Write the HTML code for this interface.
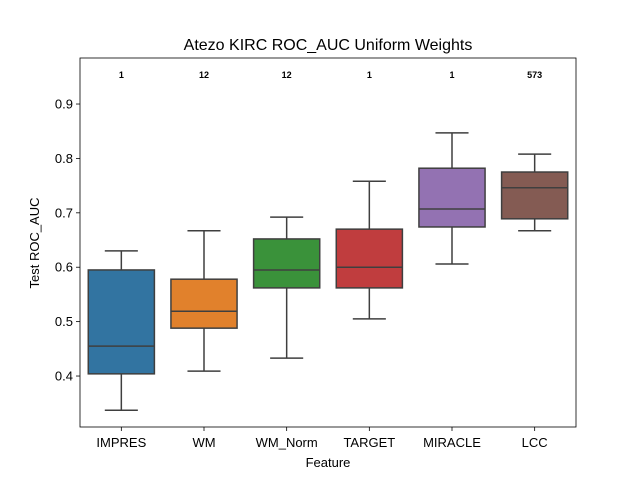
<!DOCTYPE html>
<html><head><meta charset="utf-8"><style>
body{margin:0;background:#fff;font-family:"Liberation Sans","DejaVu Sans",sans-serif;}
</style></head><body>
<svg id="chart" width="640" height="480" xmlns="http://www.w3.org/2000/svg">
<rect width="640" height="480" fill="#fff"/>
<text x="328" y="50" text-anchor="middle" font-size="16">Atezo KIRC ROC_AUC Uniform Weights</text>
<g id="plot"></g>
<rect x="80" y="58" width="496" height="369" fill="none" stroke="#000" stroke-width="0.8"/>
<text x="328" y="467" text-anchor="middle" font-size="13">Feature</text>
<text transform="translate(39,243) rotate(-90)" text-anchor="middle" font-size="13">Test ROC_AUC</text>
</svg>
<script>
const categories=["IMPRES","WM","WM_Norm","TARGET","MIRACLE","LCC"];
const whiskerLow=[0.337,0.409,0.433,0.505,0.606,0.667];
const q1=[0.404,0.488,0.562,0.562,0.674,0.689];
const medians=[0.455,0.519,0.595,0.600,0.707,0.746];
const q3=[0.595,0.578,0.652,0.670,0.782,0.775];
const whiskerHigh=[0.630,0.667,0.692,0.758,0.847,0.808];
const annotations=["1","12","12","1","1","5/3"];
const colors=["#3274a1","#e1812c","#3a923a","#c03d3e","#9372b2","#845b53"];
const yTicks=[0.4,0.5,0.6,0.7,0.8,0.9];
const NS="http://www.w3.org/2000/svg";
const L=80,R=576,T=58,B=427,yMin=0.3063,yMax=0.9846;
const y=v=>B-(v-yMin)/(yMax-yMin)*(B-T);
const step=(R-L)/categories.length;
const x=i=>L+step*(i+0.5);
const g=document.getElementById('plot');
function mk(tag,a){const e=document.createElementNS(NS,tag);for(const k in a)e.setAttribute(k,a[k]);g.appendChild(e);return e;}
yTicks.forEach(t=>{
 const l=mk('line',{x1:L-4,x2:L,y1:y(t),y2:y(t),stroke:'#000','stroke-width':0.8});
 
 
 const tx=mk('text',{x:L-7,y:y(t)+4.5,'text-anchor':'end','font-size':13});
 tx.textContent=t.toFixed(1);
 
 
});
const ec='#3f3f3f',bw=step*0.8;
categories.forEach((c,i)=>{
 const cx=x(i);
 const w1=mk('line',{x1:cx,x2:cx,y1:y(whiskerLow[i]),y2:y(q1[i]),stroke:ec,'stroke-width':1.5});
 
 
 const w2=mk('line',{x1:cx,x2:cx,y1:y(q3[i]),y2:y(whiskerHigh[i]),stroke:ec,'stroke-width':1.5});
 
 
 [whiskerLow[i],whiskerHigh[i]].forEach(v=>{
  const cap=mk('line',{x1:cx-bw/4,x2:cx+bw/4,y1:y(v),y2:y(v),stroke:ec,'stroke-width':1.5});
  
  
 });
 const b=mk('rect',{x:cx-bw/2,y:y(q3[i]),width:bw,height:y(q1[i])-y(q3[i]),fill:colors[i],stroke:ec,'stroke-width':1.5});
 
 
 const m=mk('line',{x1:cx-bw/2,x2:cx+bw/2,y1:y(medians[i]),y2:y(medians[i]),stroke:ec,'stroke-width':1.5});
 
 
 const tk=mk('line',{x1:cx,x2:cx,y1:B,y2:B+4,stroke:'#000','stroke-width':0.8});
 
 
 const lb=mk('text',{x:cx,y:B+20,'text-anchor':'middle','font-size':13});
 lb.textContent=c;
 
 
 const an=mk('text',{x:cx,y:78,'text-anchor':'middle','font-size':9,'font-weight':'bold'});
 an.textContent=annotations[i].replace('/','7');
 
 
});
</script>
</body></html>
